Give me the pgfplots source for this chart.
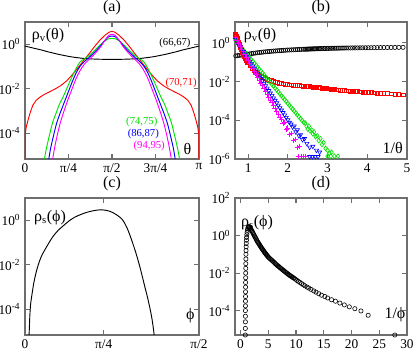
\documentclass[border=0pt]{standalone}
\usepackage{fontspec}
\setmainfont{Liberation Serif}
\usepackage{pgfplots}
\pgfplotsset{compat=1.18}
\usepackage{pgfplotstable}

\definecolor{cgreen}{RGB}{0,225,0}
\definecolor{cblue}{RGB}{0,0,255}
\definecolor{cred}{RGB}{255,0,0}
\definecolor{cmag}{RGB}{255,0,255}
\definecolor{boxgray}{RGB}{110,110,110}

\newcommand{\tickfont}{\fontsize{10}{12}\selectfont}
\newcommand{\labfont}{\fontsize{12}{14}\selectfont}
\newcommand{\curvefont}{\fontsize{8}{10}\selectfont}

\pgfplotsset{
  mypanel/.style={
    scale only axis, anchor=south west,
    axis line style={boxgray, line width=0.9pt},
    every tick/.append style={boxgray, line width=0.8pt},
    major tick length=3.5pt, tick align=inside, tick pos=both,
    yminorticks=false, xminorticks=false,
    /pgf/number format/assume math mode=true,
    tick label style={font=\tickfont},
    every axis title shift=0pt,
    title style={font=\labfont, at={(0.5,1)}, anchor=center, yshift=10.5pt},
  },
}

% panel (b): black circles and red squares, x = 1/theta
\pgfplotstableread{
x blk red
0.64 0.209 3.55
0.69 0.213 2.40
0.74 0.218 1.32
0.79 0.229 0.708
0.84 0.236 0.398
0.89 0.244 0.24
0.94 0.252 0.141
0.99 0.263 0.0955
1.04 0.27 0.0708
1.09 0.279 0.0501
1.14 0.29 0.0389
1.19 0.3 0.0316
1.24 0.31 0.0263
1.29 0.318 0.0224
1.34 0.327 0.0191
1.39 0.338 0.0166
1.44 0.345 0.0145
1.49 0.352 0.0132
1.54 0.36 0.012
1.59 0.37 0.0112
1.64 0.377 0.0102
1.69 0.383 9.55e-3
1.74 0.39 8.91e-3
1.79 0.397 8.51e-3
1.84 0.403 8.13e-3
1.89 0.41 7.76e-3
1.94 0.418 7.41e-3
1.99 0.425 7.08e-3
2.04 0.43 6.92e-3
2.09 0.435 6.76e-3
2.14 0.44 6.61e-3
2.19 0.446 6.46e-3
2.24 0.452 6.31e-3
2.29 0.457 6.17e-3
2.34 0.462 6.03e-3
2.39 0.467 5.89e-3
2.43 0.47 5.82e-3
2.46 0.473 5.75e-3
2.49 0.476 5.69e-3
2.52 0.479 5.62e-3
2.55 0.482 5.5e-3
2.58 0.485 5.43e-3
2.61 0.488 5.37e-3
2.64 0.49 5.25e-3
2.67 0.493 5.19e-3
2.70 0.496 5.13e-3
2.73 0.498 5.01e-3
2.76 0.5 4.95e-3
2.79 0.502 4.9e-3
2.82 0.505 4.79e-3
2.86 0.508 4.68e-3
2.90 0.511 4.57e-3
2.94 0.514 4.47e-3
2.98 0.517 4.37e-3
3.02 0.52 4.27e-3
3.06 0.523 4.17e-3
3.10 0.525 4.07e-3
3.14 0.527 3.98e-3
3.18 0.529 3.89e-3
3.22 0.531 3.8e-3
3.266 0.533 3.72e-3
3.314 0.536 3.63e-3
3.364 0.538 3.55e-3
3.414 0.54 3.47e-3
3.467 0.543 3.39e-3
3.521 0.545 3.31e-3
3.577 0.547 3.24e-3
3.634 0.55 3.16e-3
3.694 0.552 3.09e-3
3.755 0.554 3.02e-3
3.819 0.556 2.95e-3
3.885 0.558 2.88e-3
3.953 0.56 2.82e-3
4.023 0.562 2.75e-3
4.096 0.564 2.69e-3
4.172 0.567 2.63e-3
4.251 0.569 2.57e-3
4.333 0.572 2.51e-3
4.418 0.574 2.45e-3
4.507 0.577 2.4e-3
4.599 0.58 2.32e-3
4.695 0.583 2.24e-3
4.795 0.586 2.16e-3
4.90 0.589 2.09e-3
}\tblBR

\pgfplotstableread{
x red
0.655 3.2
0.67 2.9
0.68 2.6
0.70 2.15
0.71 1.9
0.72 1.7
0.73 1.5
0.75 1.15
0.76 1.0
0.77 0.89
0.78 0.79
0.80 0.63
0.81 0.56
0.82 0.5
0.83 0.45
0.85 0.36
0.86 0.32
0.87 0.29
0.88 0.265
0.90 0.215
0.91 0.19
0.92 0.17
0.93 0.155
0.95 0.13
0.96 0.118
0.97 0.108
0.98 0.1
}\tblRx

\pgfplotstableread{
x y
0.64 1.66
0.68 1.32
0.72 1.05
0.76 0.841
0.80 0.67
0.84 0.535
0.88 0.427
0.92 0.34
0.96 0.271
1.00 0.216
1.04 0.172
1.08 0.137
1.12 0.109
1.16 0.0873
1.20 0.0695
1.24 0.0555
1.28 0.0443
1.32 0.0352
1.36 0.0281
1.40 0.0224
1.44 0.0179
1.48 0.0143
1.52 0.01135
1.56 9.06e-3
1.60 7.21e-3
1.64 5.75e-3
1.68 4.59e-3
1.72 3.66e-3
1.76 2.92e-3
1.80 2.32e-3
1.84 1.85e-3
1.88 1.48e-3
1.92 1.18e-3
1.96 9.4e-4
2.00 7.48e-4
2.04 5.97e-4
2.08 4.76e-4
2.12 3.79e-4
2.16 3.03e-4
2.20 2.41e-4
2.24 1.92e-4
2.28 1.53e-4
2.32 1.22e-4
2.36 9.75e-5
2.40 7.76e-5
2.44 7.1e-5
2.47 5.0e-5
2.50 3.55e-5
2.53 5.0e-5
2.56 2.82e-5
2.60 3.16e-5
2.63 2.0e-5
2.66 2.5e-5
2.70 1.41e-5
2.74 1.58e-5
2.78 8.9e-6
2.82 1.12e-5
2.86 5.6e-6
2.90 7.1e-6
2.95 3.55e-6
3.00 2.8e-6
3.05 2.0e-6
3.10 2.24e-6
3.00 1.4e-6
3.08 1.4e-6
3.17 1.4e-6
3.26 1.4e-6
}\tblG

\pgfplotstableread{
x y
0.64 2.0
0.68 1.49
0.72 1.12
0.76 0.836
0.80 0.625
0.84 0.468
0.88 0.35
0.92 0.262
0.96 0.196
1.00 0.147
1.04 0.11
1.08 0.082
1.12 0.0614
1.16 0.0459
1.20 0.0344
1.24 0.0257
1.28 0.0192
1.32 0.0144
1.36 0.0108
1.40 8.05e-3
1.44 6.03e-3
1.48 4.51e-3
1.52 3.37e-3
1.56 2.52e-3
1.60 1.89e-3
1.64 1.41e-3
1.68 1.06e-3
1.72 7.91e-4
1.76 5.92e-4
1.80 4.43e-4
1.84 3.31e-4
1.88 2.48e-4
1.92 1.85e-4
1.96 1.39e-4
2.00 1.04e-4
2.04 7.76e-5
2.08 6.3e-5
2.12 4.47e-5
2.16 5.0e-5
2.20 2.5e-5
2.24 3.16e-5
2.28 1.58e-5
2.32 1.78e-5
2.37 1.0e-5
2.42 1.12e-5
2.48 6.3e-6
2.55 4.0e-6
2.63 4.47e-6
2.72 2.8e-6
2.80 2.24e-6
2.55 1.32e-6
2.62 1.32e-6
2.69 1.32e-6
2.76 1.32e-6
}\tblB

\pgfplotstableread{
x y
0.64 2.63
0.68 1.88
0.72 1.34
0.76 0.957
0.80 0.683
0.84 0.488
0.88 0.348
0.92 0.248
0.96 0.177
1.00 0.126
1.04 0.0904
1.08 0.0646
1.12 0.046
1.16 0.0329
1.20 0.0234
1.24 0.0167
1.28 0.012
1.32 8.53e-3
1.36 6.1e-3
1.40 4.35e-3
1.44 3.1e-3
1.48 2.22e-3
1.52 1.58e-3
1.56 1.13e-3
1.60 8.05e-4
1.64 5.75e-4
1.68 4.11e-4
1.72 2.93e-4
1.76 2.09e-4
1.80 1.49e-4
1.84 1.07e-4
1.88 7.1e-5
1.92 7.9e-5
1.96 3.55e-5
2.00 4.0e-5
2.05 1.78e-5
2.10 2.0e-5
2.15 8.9e-6
2.20 1.0e-5
2.25 4.0e-6
2.30 4.47e-6
2.27 1.32e-6
2.33 1.32e-6
2.39 1.32e-6
2.45 1.32e-6
}\tblM

% panel (d): rho_s against 1/phi
\pgfplotstableread{
x y
0.862 5.0e-6
0.866 1.12e-5
0.870 2.51e-5
0.874 5.01e-5
0.878 1.0e-4
0.883 1.78e-4
0.888 3.16e-4
0.894 5.62e-4
0.900 1.0e-3
0.907 1.78e-3
0.914 3.16e-3
0.922 5.62e-3
0.930 0.01
0.940 0.0178
0.950 0.0316
0.962 0.0562
0.975 0.1
0.99 0.158
1.01 0.251
1.03 0.38
1.06 0.562
1.09 0.794
1.13 1.096
1.18 1.479
1.24 1.905
1.30 2.291
1.37 2.63
1.45 2.884
1.53 2.951
1.61 2.884
1.70 2.692
1.80 2.399
1.90 2.138
2.0 1.862
2.1 1.66
2.2 1.445
2.3 1.259
2.4 1.096
2.5 0.955
2.6 0.851
2.7 0.759
2.8 0.661
2.9 0.575
3.0 0.501
3.1 0.452
3.2 0.407
3.3 0.367
3.4 0.331
3.5 0.295
3.6 0.263
3.7 0.237
3.8 0.214
3.9 0.195
4.0 0.178
4.1 0.162
4.2 0.145
4.3 0.132
4.4 0.12
4.5 0.11
4.6 0.1
4.7 0.0923
4.8 0.0851
4.9 0.0776
5.0 0.0708
5.15 0.0646
5.3 0.0589
5.45 0.0537
5.6 0.049
5.75 0.0447
5.9 0.0407
6.05 0.0372
6.2 0.0331
6.35 0.0302
6.5 0.0275
6.65 0.0251
6.8 0.0234
6.95 0.0214
7.1 0.0195
7.25 0.018
7.4 0.0166
7.55 0.0151
7.7 0.014
7.85 0.0129
8.0 0.012
8.15 0.011
8.3 0.01
8.45 9.33e-3
8.6 8.71e-3
8.75 7.94e-3
8.9 7.41e-3
9.05 6.92e-3
9.2 6.46e-3
9.35 6.03e-3
9.5 5.62e-3
9.66 5.25e-3
9.9 4.68e-3
10.15 4.07e-3
10.4 3.63e-3
10.7 3.16e-3
11.0 2.75e-3
11.3 2.4e-3
11.6 2.09e-3
12.0 1.78e-3
12.3 1.58e-3
12.7 1.35e-3
13.2 1.12e-3
13.6 9.55e-4
14.1 7.94e-4
14.6 6.61e-4
15.2 5.62e-4
15.7 4.68e-4
16.4 3.8e-4
17.1 3.16e-4
17.9 2.51e-4
18.7 2.0e-4
19.6 1.58e-4
20.6 1.26e-4
21.7 9.55e-5
23.0 5.62e-5
27.8 5.0e-6
}\tblD

\begin{document}
\begin{tikzpicture}
\useasboundingbox (0,0) rectangle (311.25pt,264pt);

% ---------------- (a)
\begin{axis}[mypanel, ymode=log, at={(18.75pt,144.75pt)}, width=130.5pt, height=102.75pt,
  xmin=0, xmax=3.1416, ymin=7e-6, ymax=10,
  xtick={0,0.7854,1.5708,2.3562,3.1416},
  xticklabels={0,π/4,π/2,3π/4,π},
  ytick={1,1e-2,1e-4},
  yticklabels={10\textsuperscript{0},10\textsuperscript{-2},10\textsuperscript{-4}},
  title={(a)}]
\addplot[line width=0.7pt, smooth, black] coordinates {(0,0.83) (0.1,0.72) (0.2,0.63) (0.3,0.55) (0.4,0.468) (0.5,0.407) (0.6,0.355) (0.7,0.316) (0.8,0.282) (0.9,0.257) (1.0,0.24) (1.1,0.226) (1.2,0.219) (1.3,0.214) (1.4,0.211) (1.5708,0.209) (1.7416,0.211) (1.8416,0.214) (1.9416,0.219) (2.0416,0.226) (2.1416,0.24) (2.2416,0.257) (2.3416,0.282) (2.4416,0.316) (2.5416,0.355) (2.6416,0.407) (2.7416,0.468) (2.8416,0.55) (2.9416,0.63) (3.0416,0.72) (3.1416,0.83)};
\addplot[line width=0.7pt, cred] coordinates {(0,1e-6) (0.004,8.9e-5) (0.02,1.78e-4) (0.05,3.55e-4) (0.09,7.94e-4) (0.14,1.78e-3) (0.2,3.02e-3) (0.27,4.17e-3) (0.35,5.62e-3) (0.45,7.41e-3) (0.55,0.01) (0.65,0.0141) (0.75,0.0224) (0.85,0.0417) (0.95,0.0832) (1.05,0.174) (1.15,0.355) (1.25,0.759) (1.35,1.51) (1.45,2.63) (1.52,3.47) (1.5708,3.8) (1.6216,3.47) (1.6916,2.63) (1.7916,1.51) (1.8916,0.759) (1.9916,0.355) (2.0916,0.174) (2.1916,0.0832) (2.2916,0.0417) (2.3916,0.0224) (2.4916,0.0141) (2.5916,0.01) (2.6916,7.41e-3) (2.7916,5.62e-3) (2.8716,4.17e-3) (2.9416,3.02e-3) (3.0016,1.78e-3) (3.0516,7.94e-4) (3.0916,3.55e-4) (3.1216,1.78e-4) (3.1376,8.9e-5) (3.1416,1e-6)};
\addplot[line width=0.7pt, smooth, cgreen] coordinates {(0.3108,1.58e-6) (0.3408,5.0e-6) (0.3808,1.78e-5) (0.4308,6.31e-5) (0.5008,3.16e-4) (0.5608,7.94e-4) (0.6208,2.0e-3) (0.6908,4.47e-3) (0.7608,0.0112) (0.8508,0.0355) (0.9208,0.0794) (0.9908,0.158) (1.0708,0.219) (1.1708,0.331) (1.2708,0.575) (1.3708,1.0) (1.4308,1.35) (1.5008,1.74) (1.5708,1.82) (1.6408,1.74) (1.7108,1.35) (1.7708,1.0) (1.8708,0.575) (1.9708,0.331) (2.0708,0.219) (2.1508,0.158) (2.2208,0.0794) (2.2908,0.0355) (2.3808,0.0112) (2.4508,4.47e-3) (2.5208,2.0e-3) (2.5808,7.94e-4) (2.6408,3.16e-4) (2.7108,6.31e-5) (2.7608,1.78e-5) (2.8008,5.0e-6) (2.8308,1.58e-6)};
\addplot[line width=0.7pt, smooth, cblue] coordinates {(0.3908,1.58e-6) (0.4208,5.0e-6) (0.4608,2.0e-5) (0.5108,7.08e-5) (0.5708,2.82e-4) (0.6408,8.91e-4) (0.7108,2.51e-3) (0.7808,7.08e-3) (0.8508,0.02) (0.9208,0.0501) (0.9908,0.1) (1.0708,0.166) (1.1708,0.275) (1.2708,0.479) (1.3708,0.891) (1.4308,1.38) (1.5008,2.09) (1.5708,2.34) (1.6408,2.09) (1.7108,1.38) (1.7708,0.891) (1.8708,0.479) (1.9708,0.275) (2.0708,0.166) (2.1508,0.1) (2.2208,0.0501) (2.2908,0.02) (2.3608,7.08e-3) (2.4308,2.51e-3) (2.5008,8.91e-4) (2.5708,2.82e-4) (2.6308,7.08e-5) (2.6808,2.0e-5) (2.7208,5.0e-6) (2.7508,1.58e-6)};
\addplot[line width=0.7pt, smooth, cmag] coordinates {(0.4608,1.58e-6) (0.4908,5.0e-6) (0.5308,2.0e-5) (0.5808,7.94e-5) (0.6408,3.16e-4) (0.7108,1.12e-3) (0.7808,3.55e-3) (0.8508,0.01) (0.9208,0.0282) (0.9908,0.0631) (1.0708,0.126) (1.1708,0.224) (1.2708,0.398) (1.3708,0.794) (1.4308,1.35) (1.5008,2.34) (1.5708,2.82) (1.6408,2.34) (1.7108,1.35) (1.7708,0.794) (1.8708,0.398) (1.9708,0.224) (2.0708,0.126) (2.1508,0.0631) (2.2208,0.0282) (2.2908,0.01) (2.3608,3.55e-3) (2.4308,1.12e-3) (2.5008,3.16e-4) (2.5608,7.94e-5) (2.6108,2.0e-5) (2.6508,5.0e-6) (2.6808,1.58e-6)};
\node[font=\labfont] at (rel axis cs:0.132,0.9) {ρ\textsubscript{v}(θ)};
\node[font=\curvefont] at (rel axis cs:0.862,0.845) {(66,67)};
\node[font=\curvefont, text=cred] at (rel axis cs:0.897,0.553) {(70,71)};
\node[font=\curvefont, text=cgreen] at (rel axis cs:0.671,0.272) {(74,75)};
\node[font=\curvefont, text=cblue] at (rel axis cs:0.68,0.182) {(86,87)};
\node[font=\curvefont, text=cmag] at (rel axis cs:0.714,0.097) {(94,95)};
\node[font=\labfont] at (rel axis cs:0.933,0.073) {θ};
\end{axis}

% ---------------- (b)
\begin{axis}[mypanel, ymode=log, at={(176.25pt,144.75pt)}, width=129pt, height=102.75pt,
  xmin=0.67, xmax=5, ymin=1e-6, ymax=12,
  xtick={1,2,3,4,5},
  xticklabels={1,2,3,4,5},
  ytick={1,1e-2,1e-4,1e-6},
  yticklabels={10\textsuperscript{0},10\textsuperscript{-2},10\textsuperscript{-4},10\textsuperscript{-6}},
  title={(b)}]
\addplot[only marks, mark=o, mark size=1.6pt, mark options={line width=0.45pt}, black] table[x=x, y=blk] {\tblBR};
\addplot[only marks, mark=square, mark size=1.4pt, mark options={line width=0.45pt}, cred] table[x=x, y=red] {\tblBR};
\addplot[only marks, mark=square, mark size=1.4pt, mark options={line width=0.45pt}, cred] table[x=x, y=red] {\tblRx};
\addplot[only marks, mark=diamond, mark size=1.8pt, mark options={line width=0.45pt}, cgreen] table[x=x, y=y] {\tblG};
\addplot[only marks, mark=triangle, mark size=1.8pt, mark options={rotate=180, line width=0.45pt}, cblue] table[x=x, y=y] {\tblB};
\addplot[only marks, mark=+, mark size=2pt, mark options={line width=0.5pt}, cmag] table[x=x, y=y] {\tblM};
\node[font=\labfont] at (rel axis cs:0.145,0.9) {ρ\textsubscript{v}(θ)};
\node[font=\labfont] at (rel axis cs:0.917,0.078) {1/θ};
\end{axis}

% ---------------- (c)
\begin{axis}[mypanel, ymode=log, at={(18.75pt,12.75pt)}, width=130.5pt, height=102.75pt,
  xmin=0, xmax=1.5708, ymin=7e-6, ymax=10,
  xtick={0,0.71,1.5708},
  xticklabels={0,π/4,π/2},
  ytick={1,1e-2,1e-4},
  yticklabels={10\textsuperscript{0},10\textsuperscript{-2},10\textsuperscript{-4}},
  title={(c)}]
\addplot[line width=0.7pt, smooth, black] coordinates {(0.036,5.0e-6) (0.040,1.78e-5) (0.0435,5.01e-5) (0.05,1.58e-4) (0.058,3.16e-4) (0.067,6.31e-4) (0.08,1.58e-3) (0.1,4.47e-3) (0.12,0.01) (0.15,0.0251) (0.2,0.0708) (0.25,0.178) (0.3,0.355) (0.35,0.589) (0.4,0.955) (0.45,1.38) (0.5,1.78) (0.56,2.29) (0.62,2.69) (0.68,2.95) (0.74,2.75) (0.79,2.24) (0.84,1.58) (0.88,1.05) (0.92,0.468) (0.96,0.141) (1.0,0.0355) (1.04,7.08e-3) (1.08,1.12e-3) (1.11,2.82e-4) (1.14,5.62e-5) (1.16,1.26e-5) (1.175,2.5e-6)};
\node[font=\labfont] at (rel axis cs:0.144,0.86) {ρ\textsubscript{s}(ϕ)};
\node[font=\labfont] at (rel axis cs:0.95,0.14) {ϕ};
\end{axis}

% ---------------- (d)
\begin{axis}[mypanel, ymode=log, at={(176.25pt,12.75pt)}, width=129pt, height=102.75pt,
  xmin=-1, xmax=30, ymin=5e-6, ymax=100,
  xtick={0,5,10,15,20,25,30},
  xticklabels={0,5,10,15,20,25,30},
  ytick={100,1,1e-2,1e-4},
  yticklabels={10\textsuperscript{2},10\textsuperscript{0},10\textsuperscript{-2},10\textsuperscript{-4}},
  title={(d)}]
\addplot[only marks, mark=o, mark size=1.6pt, mark options={line width=0.45pt}, black] table[x=x, y=y] {\tblD};
\node[font=\labfont] at (rel axis cs:0.128,0.82) {ρ\textsubscript{s}(ϕ)};
\node[font=\labfont] at (rel axis cs:0.93,0.15) {1/ϕ};
\end{axis}
\end{tikzpicture}
\end{document}
